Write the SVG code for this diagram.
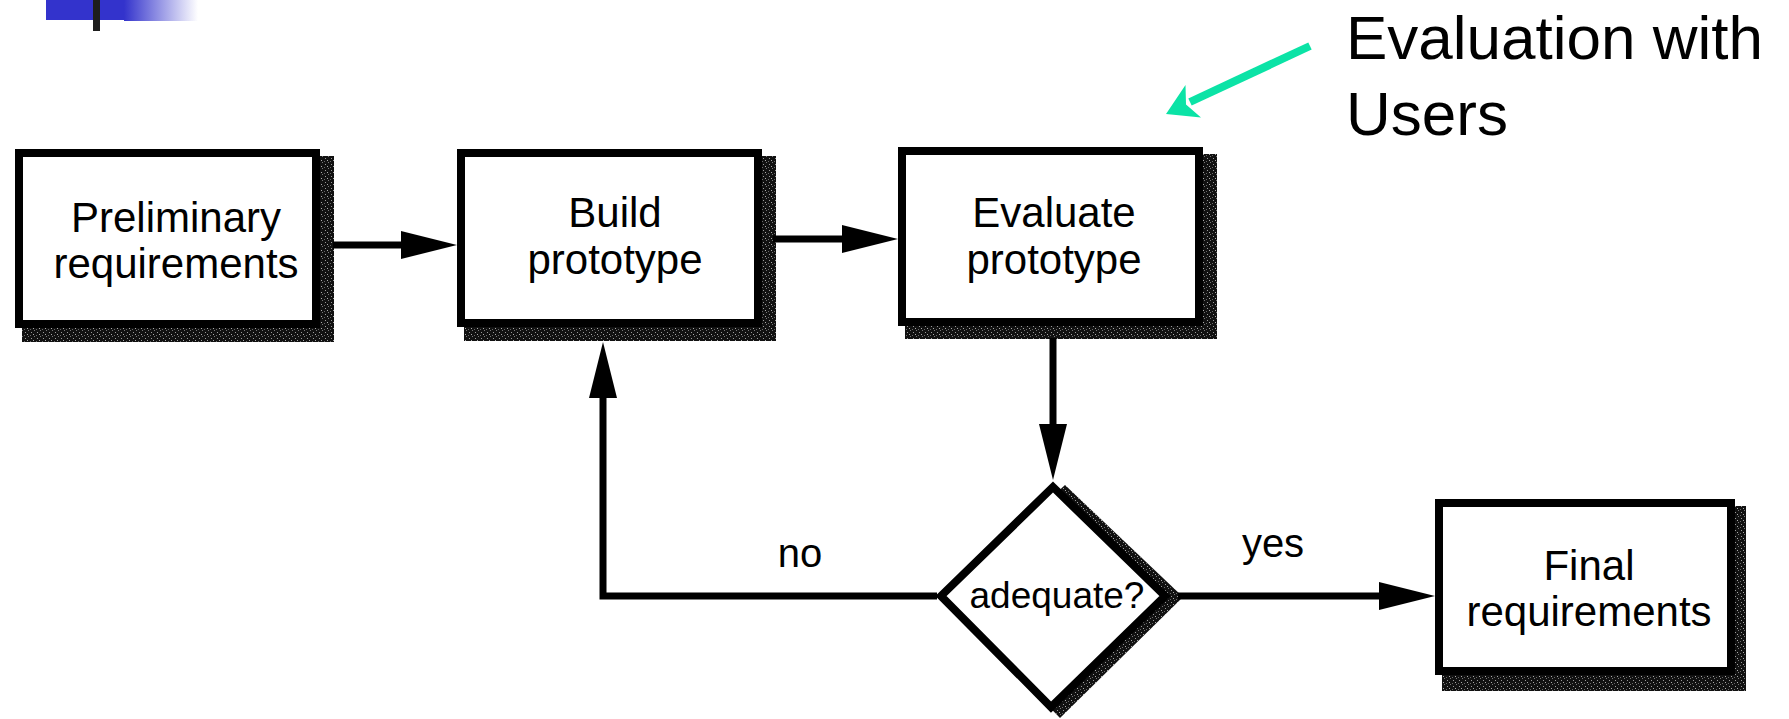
<svg xmlns="http://www.w3.org/2000/svg" width="1789" height="719" viewBox="0 0 1789 719">
  <defs>
    <linearGradient id="fade" x1="0" y1="0" x2="1" y2="0">
      <stop offset="0" stop-color="#3333cc"/>
      <stop offset="1" stop-color="#ffffff"/>
    </linearGradient>
    <!-- grainy drop-shadow fill -->
    <pattern id="grain" width="6" height="6" patternUnits="userSpaceOnUse">
      <rect width="6" height="6" fill="#111"/>
      <rect x="1" y="2" width="1" height="1" fill="#999"/>
      <rect x="4" y="0" width="1" height="1" fill="#777"/>
      <rect x="3" y="4" width="1" height="1" fill="#aaa"/>
      <rect x="0" y="5" width="1" height="1" fill="#666"/>
    </pattern>
    <marker id="head" markerUnits="userSpaceOnUse" markerWidth="60" markerHeight="32" refX="10" refY="16" orient="auto" viewBox="0 0 60 32">
      <path d="M0,2 L56,16 L0,30 Z" fill="#000"/>
    </marker>
  </defs>
  <style>
    .box { fill: #fff; stroke: #000; stroke-width: 8; }
    .shadow { fill: url(#grain); }
    .label { font-family: "Liberation Sans", Arial, sans-serif; font-size: 42px; fill: #000; text-anchor: middle; }
    .small { font-size: 37px; }
    .tag { font-size: 40px; }
    .wire { fill: none; stroke: #000; stroke-width: 7; marker-end: url(#head); }
    .note { font-family: "Liberation Sans", Arial, sans-serif; font-size: 62px; fill: #000; }
  </style>

  <rect width="1789" height="719" fill="#fff"/>

  <!-- corner bullet -->
  <g id="bullet">
    <rect x="46" y="0" width="78" height="20" fill="#3333cc"/>
    <rect x="124" y="0" width="74" height="21" fill="url(#fade)"/>
    <rect x="93" y="0" width="7" height="31" fill="#1e1e1e"/>
  </g>

  <g id="preliminary">
    <rect class="shadow" x="22" y="156" width="312" height="186"/>
    <rect class="box" x="19" y="153" width="297" height="171"/>
    <text class="label" x="176" y="232">Preliminary</text>
    <text class="label" x="176" y="278">requirements</text>
  </g>

  <g id="build">
    <rect class="shadow" x="464" y="156" width="312" height="185"/>
    <rect class="box" x="461" y="153" width="297" height="170"/>
    <text class="label" x="615" y="227">Build</text>
    <text class="label" x="615" y="274">prototype</text>
  </g>

  <g id="evaluate">
    <rect class="shadow" x="905" y="154" width="312" height="185"/>
    <rect class="box" x="902" y="151" width="297" height="171"/>
    <text class="label" x="1054" y="227">Evaluate</text>
    <text class="label" x="1054" y="274">prototype</text>
  </g>

  <g id="adequate">
    <polygon class="shadow" points="1065,485 1183,597 1060,718 943,597"/>
    <polygon class="box" points="1053,487 1165,596 1051,707 941,596"/>
    <text class="label small" x="1057" y="608">adequate?</text>
  </g>

  <g id="final">
    <rect class="shadow" x="1442" y="506" width="304" height="185"/>
    <rect class="box" x="1439" y="503" width="292" height="168"/>
    <text class="label" x="1589" y="580">Final</text>
    <text class="label" x="1589" y="626">requirements</text>
  </g>

  <g id="connectors">
    <path class="wire" d="M333,245 H411"/>
    <path class="wire" d="M773,239 H852"/>
    <path class="wire" d="M1053,338 V434"/>
    <path class="wire" d="M937,596 H603 V388"/>
    <path class="wire" d="M1178,596 H1389"/>
    <text class="label tag" x="800" y="567">no</text>
    <text class="label tag" x="1273" y="557">yes</text>
  </g>

  <g id="callout">
    <path d="M1310,46 L1190,102" stroke="#0be3a6" stroke-width="8" fill="none"/>
    <polygon points="1166,114 1185.5,85 1186,104.6 1201,117.5" fill="#0be3a6"/>
    <text class="note" x="1346" y="59">Evaluation with</text>
    <text class="note" x="1346" y="135">Users</text>
  </g>
</svg>
